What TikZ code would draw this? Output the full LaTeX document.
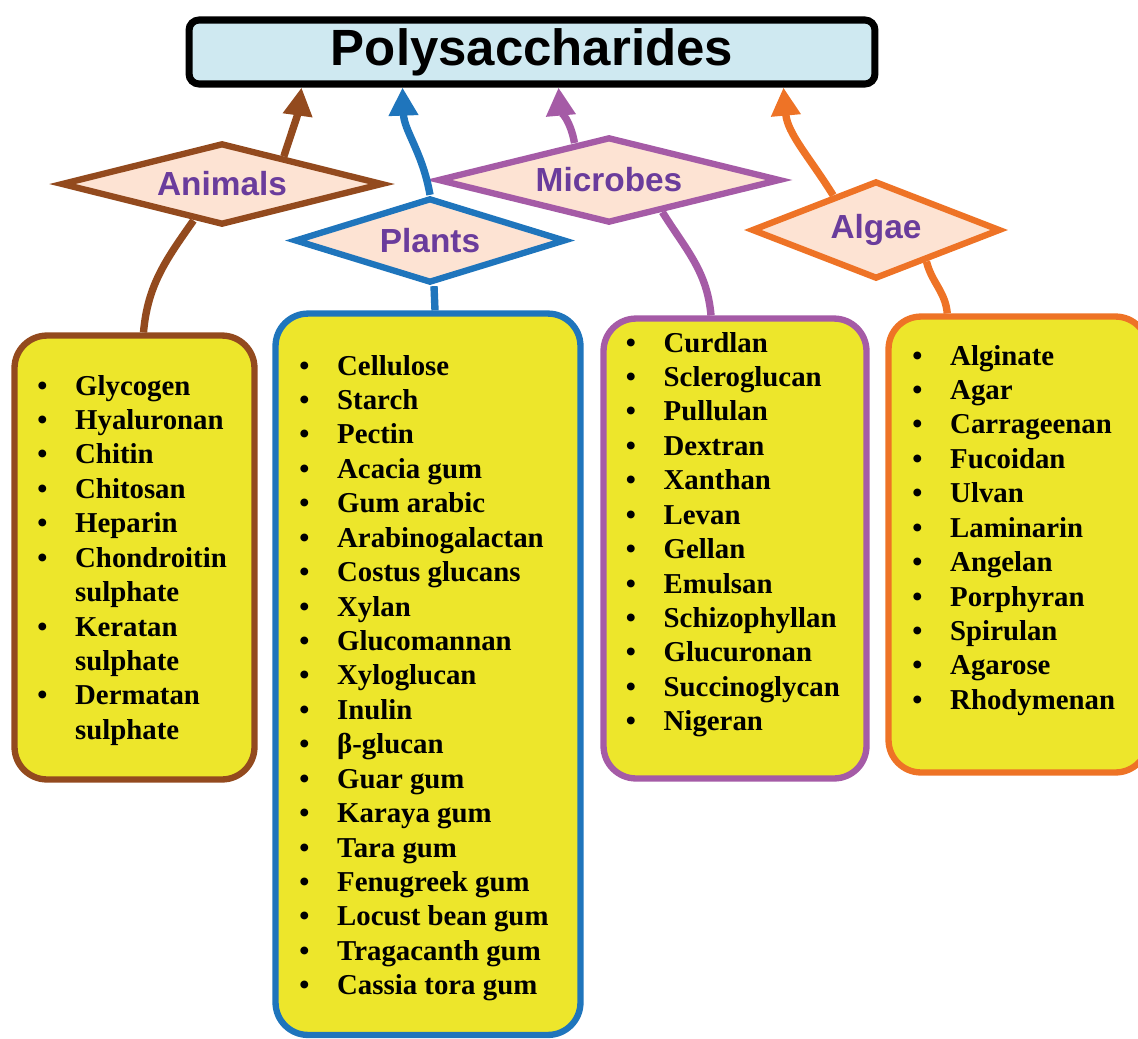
\documentclass[tikz,border=0pt]{standalone}
\usepackage{fontspec}
\setmainfont{Liberation Serif}
\newfontfamily\headfont{Liberation Sans}
\usepackage{xcolor}
\usetikzlibrary{shapes.geometric, arrows.meta, positioning}
\definecolor{brownline}{HTML}{934A1E}
\definecolor{blueline}{HTML}{1F75BC}
\definecolor{purpleline}{HTML}{A55BA6}
\definecolor{orangeline}{HTML}{EE7326}
\definecolor{peach}{HTML}{FDE3D3}
\definecolor{labelpurple}{HTML}{6A3C9C}
\definecolor{listyellow}{HTML}{EDE62B}
\definecolor{lightblue}{HTML}{CFE9F1}
\newcommand{\itemlist}[1]{\begin{tabular}[t]{@{}l@{\hspace{15.8pt}}l@{}}#1\end{tabular}}

\begin{document}
\begin{tikzpicture}[
    x=0.02cm, y=0.02cm,
    topbox/.style={draw=black, line width=4pt, rounded corners=0.2cm, fill=lightblue,
                   minimum width=13.72cm, minimum height=1.28cm, inner sep=0pt,
                   font=\headfont\bfseries\fontsize{29}{34}\selectfont},
    kind/.style={diamond, shape aspect=3.5, draw, line width=3.6pt, fill=peach, inner sep=0pt,
                 text=labelpurple, font=\headfont\bfseries\fontsize{19}{22}\selectfont},
    listbox/.style={draw, line width=3.6pt, rounded corners=0.65cm, fill=listyellow, inner sep=0pt},
    items/.style={anchor=base west, inner sep=0pt, font=\bfseries\fontsize{16.4}{19.6}\selectfont},
    uplink/.style={line width=4.2pt, -{Triangle[length=16pt,width=16pt]}},
    downlink/.style={line width=4.2pt}
]
    \useasboundingbox (0,0) rectangle (1138,-1038);

    \node[topbox] (poly) at (532,-52) {Polysaccharides};

    % lists
    \node[listbox, draw=brownline, minimum width=4.8cm, minimum height=8.88cm] (animalsBox) at (134.5,-557.5) {};
    \node[listbox, draw=blueline, minimum width=6.1cm, minimum height=14.43cm] (plantsBox) at (428,-674.25) {};
    \node[listbox, draw=purpleline, minimum width=5.26cm, minimum height=9.2cm] (microbesBox) at (735,-548.5) {};
    \node[listbox, draw=orangeline, minimum width=5.19cm, minimum height=9.12cm] (algaeBox) at (1018.25,-544.5) {};

    \node[items] (animalsList) at (37,-395) {\itemlist{
        \textbullet & Glycogen\\ \textbullet & Hyaluronan\\ \textbullet & Chitin\\
        \textbullet & Chitosan\\ \textbullet & Heparin\\ \textbullet & Chondroitin\\ & sulphate\\
        \textbullet & Keratan\\ & sulphate\\ \textbullet & Dermatan\\ & sulphate}};
    \node[items] (plantsList) at (299,-375) {\itemlist{
        \textbullet & Cellulose\\ \textbullet & Starch\\ \textbullet & Pectin\\
        \textbullet & Acacia gum\\ \textbullet & Gum arabic\\ \textbullet & Arabinogalactan\\
        \textbullet & Costus glucans\\ \textbullet & Xylan\\ \textbullet & Glucomannan\\
        \textbullet & Xyloglucan\\ \textbullet & Inulin\\ \textbullet & β-glucan\\
        \textbullet & Guar gum\\ \textbullet & Karaya gum\\ \textbullet & Tara gum\\
        \textbullet & Fenugreek gum\\ \textbullet & Locust bean gum\\ \textbullet & Tragacanth gum\\
        \textbullet & Cassia tora gum}};
    \node[items] (microbesList) at (625.5,-352) {\itemlist{
        \textbullet & Curdlan\\ \textbullet & Scleroglucan\\ \textbullet & Pullulan\\
        \textbullet & Dextran\\ \textbullet & Xanthan\\ \textbullet & Levan\\
        \textbullet & Gellan\\ \textbullet & Emulsan\\ \textbullet & Schizophyllan\\
        \textbullet & Glucuronan\\ \textbullet & Succinoglycan\\ \textbullet & Nigeran}};
    \node[items] (algaeList) at (912,-365) {\itemlist{
        \textbullet & Alginate\\ \textbullet & Agar\\ \textbullet & Carrageenan\\
        \textbullet & Fucoidan\\ \textbullet & Ulvan\\ \textbullet & Laminarin\\
        \textbullet & Angelan\\ \textbullet & Porphyran\\ \textbullet & Spirulan\\
        \textbullet & Agarose\\ \textbullet & Rhodymenan}};

    % sources
    \node[kind, draw=brownline, minimum width=6.44cm, minimum height=1.64cm] (animals) at (222,-184) {Animals};
    \node[kind, draw=blueline, minimum width=5.42cm, minimum height=1.7cm] (plants) at (430,-240.5) {Plants};
    \node[kind, draw=purpleline, minimum width=6.86cm, minimum height=1.72cm] (microbes) at (609,-180) {Microbes};
    \node[kind, draw=orangeline, minimum width=4.98cm, minimum height=1.96cm] (algae) at (876,-230) {Algae};

    \draw[uplink, brownline] (animals.24) to[out=72, in=-98] ([xshift=2.32cm]poly.south west);
    \draw[uplink, blueline] (plants.north) to[out=100, in=-88] ([xshift=4.34cm]poly.south west);
    \draw[uplink, purpleline] (microbes.133) to[out=100, in=-85] ([xshift=7.46cm]poly.south west);
    \draw[uplink, orangeline] (algae.141) to[out=122, in=-85] ([xshift=11.96cm]poly.south west);

    \draw[downlink, brownline] (animals.232) to[out=-125, in=85] ([xshift=0.18cm]animalsBox.north);
    \draw[downlink, blueline] ([xshift=0.08cm]plants.south) -- ([xshift=0.14cm]plantsBox.north);
    \draw[downlink, purpleline] (microbes.-31) to[out=-58, in=95] ([xshift=-0.48cm]microbesBox.north);
    \draw[downlink, orangeline] (algae.-32) to[out=-76, in=95] ([xshift=-1.42cm]algaeBox.north);
\end{tikzpicture}
\end{document}
